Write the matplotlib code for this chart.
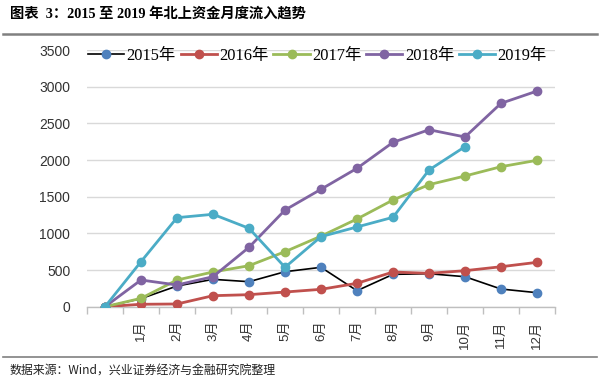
import matplotlib
matplotlib.use("Agg")
import matplotlib.pyplot as plt
from matplotlib.lines import Line2D

categories = ["", "1月", "2月", "3月", "4月", "5月", "6月", "7月", "8月", "9月", "10月", "11月", "12月"]
series_names = ["2015年", "2016年", "2017年", "2018年", "2019年"]
v2015 = [0, 110, 282, 373, 341, 477, 537, 218, 441, 450, 409, 241, 191]
v2016 = [0, 33, 37, 150, 164, 200, 237, 319, 473, 455, 491, 545, 605]
v2017 = [0, 114, 364, 473, 559, 750, 962, 1196, 1455, 1664, 1782, 1909, 1996]
v2018 = [0, 364, 296, 409, 810, 1318, 1601, 1887, 2241, 2413, 2314, 2773, 2940]
v2019 = [0, 614, 1214, 1260, 1069, 537, 955, 1087, 1219, 1864, 2182]
yticks = [0, 500, 1000, 1500, 2000, 2500, 3000, 3500]

line_colors = ["#000000", "#C0504D", "#9BBB59", "#8064A2", "#4BACC6"]
marker_colors = ["#4F81BD", "#C0504D", "#9BBB59", "#8064A2", "#4BACC6"]
widths = [1.2, 2.0, 2.0, 2.0, 2.0]

fig = plt.figure(figsize=(6, 3.81), dpi=100)
ax = fig.add_axes([87/600, 1-306.7/381, 468/600, 256.7/381])

data = [v2015, v2016, v2017, v2018, v2019]
handles = []
for name, vals, lc, mc, lw in zip(series_names, data, line_colors, marker_colors, widths):
    x = list(range(len(vals)))
    h, = ax.plot(x, vals, color=lc, lw=lw, marker="o", markersize=6,
                 markerfacecolor=mc, markeredgecolor=mc, label=name, zorder=3)
    handles.append(h)

ax.set_xlim(-0.5, len(categories) - 0.5)
ax.set_ylim(0, 3500)
ax.set_yticks(yticks)
ax.set_yticklabels([str(t) for t in yticks], fontsize=10, color="#333333",
                   family=["Liberation Sans", "DejaVu Sans"])
ax.tick_params(axis="y", length=0, pad=12)
ax.yaxis.grid(True, color="#D9D9D9", lw=1)
ax.set_axisbelow(True)
for s in ["left", "right", "top"]:
    ax.spines[s].set_visible(False)
ax.spines["bottom"].set_color("#BFBFBF")
ax.spines["bottom"].set_linewidth(1)

ax.set_xticks(range(len(categories)))
ax.set_xticklabels(categories, rotation=90, fontsize=9.5, color="#333333",
                   family=["Liberation Sans", "Noto Sans CJK SC"], va="top")
ax.tick_params(axis="x", length=0, pad=10)
ax.set_xticks([i + 0.5 for i in range(-1, len(categories))], minor=True)
ax.tick_params(axis="x", which="minor", length=5, color="#BFBFBF", width=1)

leg = fig.legend(handles=handles, loc="center left", bbox_to_anchor=(88/600, 1-56/381),
                 ncol=5, frameon=False, handlelength=2.2, handletextpad=0.15,
                 columnspacing=0.3, borderaxespad=0, borderpad=0,
                 prop={"family": ["Liberation Serif", "Noto Sans CJK SC"], "size": 11.8})

fig.text(10/600, 1-14/381, "图表  3：2015 至 2019 年北上资金月度流入趋势", fontsize=10.3,
         fontweight="bold", family=["Liberation Serif", "Noto Sans CJK SC"], va="center", ha="left")
fig.add_artist(Line2D([3/600, 597/600], [1-34/381, 1-34/381], color="#808080", lw=1.8))
fig.add_artist(Line2D([3/600, 597/600], [1-356.5/381, 1-356.5/381], color="#808080", lw=1.2))
fig.text(10/600, 1-371/381, "数据来源：Wind，兴业证券经济与金融研究院整理", fontsize=8.6,
         family=["Noto Sans CJK SC", "DejaVu Sans"], va="center", ha="left", color="#222222")

fig.savefig("out.png", dpi=100)
